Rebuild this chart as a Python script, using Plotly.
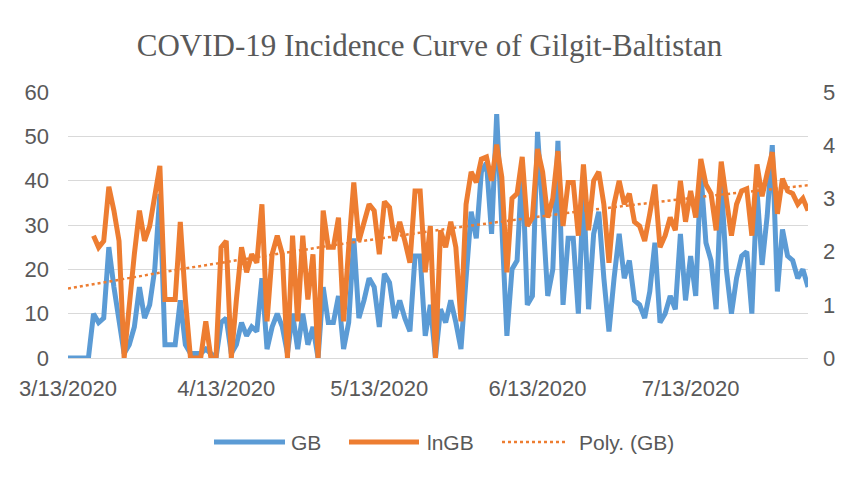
import numpy as np
import pandas as pd
import plotly.graph_objects as go

dates = pd.date_range("2020-03-13", periods=146, freq="D")

gb = [0, 0, 0, 0, 0, 10, 8, 9, 25, 16,
      9, 1, 3, 7, 16, 9, 12, 20, 37, 3,
      3, 3, 13, 3, 1, 1, 1, 2, 1, 0,
      8, 9, 1, 3, 8, 5, 7, 6, 18, 2,
      7, 10, 7, 1, 10, 2, 10, 3, 7, 0,
      16, 8, 8, 14, 2, 8, 27, 9, 13, 18,
      16, 7, 19, 17, 9, 13, 9, 6, 23, 23,
      5, 12, 0, 11, 8, 13, 8, 2, 18, 33,
      27, 42, 44, 28, 55, 30, 5, 20, 22, 44,
      12, 14, 51, 33, 14, 20, 49, 12, 27, 27,
      10, 38, 11, 28, 33, 18, 6, 18, 28, 18,
      22, 13, 12, 9, 15, 26, 8, 10, 14, 11,
      28, 13, 23, 14, 42, 26, 22, 11, 40, 20,
      10, 18, 23, 24, 10, 38, 21, 32, 48, 15,
      29, 23, 22, 18, 20, 16]

ln_gb = [None, None, None, None, None, 2.30, 2.08, 2.20, 3.22, 2.77,
         2.20, 0.00, 1.10, 1.95, 2.77, 2.20, 2.48, 3.00, 3.61, 1.10,
         1.10, 1.10, 2.56, 1.10, 0.00, 0.00, 0.00, 0.69, 0.00, 0.00,
         2.08, 2.20, 0.00, 1.10, 2.08, 1.61, 1.95, 1.79, 2.89, 0.69,
         1.95, 2.30, 1.95, 0.00, 2.30, 0.69, 2.30, 1.10, 1.95, 0.00,
         2.77, 2.08, 2.08, 2.64, 0.69, 2.08, 3.30, 2.20, 2.56, 2.89,
         2.77, 1.95, 2.94, 2.83, 2.20, 2.56, 2.20, 1.79, 3.14, 3.14,
         1.61, 2.48, 0.00, 2.40, 2.08, 2.56, 2.08, 0.69, 2.89, 3.50,
         3.30, 3.74, 3.78, 3.33, 4.01, 3.40, 1.61, 3.00, 3.09, 3.78,
         2.48, 2.64, 3.93, 3.50, 2.64, 3.00, 3.89, 2.48, 3.30, 3.30,
         2.30, 3.64, 2.40, 3.33, 3.50, 2.89, 1.79, 2.89, 3.33, 2.89,
         3.09, 2.56, 2.48, 2.20, 2.71, 3.26, 2.08, 2.30, 2.64, 2.40,
         3.33, 2.56, 3.14, 2.64, 3.74, 3.26, 3.09, 2.40, 3.69, 3.00,
         2.30, 2.89, 3.14, 3.18, 2.30, 3.64, 3.04, 3.47, 3.87, 2.71,
         3.37, 3.14, 3.09, 2.89, 3.00, 2.77]

tick_dates = ["2020-03-13", "2020-04-13", "2020-05-13", "2020-06-13", "2020-07-13"]
tick_labels = ["3/13/2020", "4/13/2020", "5/13/2020", "6/13/2020", "7/13/2020"]
legend_names = ["GB", "lnGB", "Poly. (GB)"]

# order-2 polynomial trendline (Excel "Poly."), fitted on the plotted ln series
xi = np.arange(1, len(ln_gb) + 1, dtype=float)
ln_arr = np.array([np.nan if v is None else v for v in ln_gb], dtype=float)
ok = ~np.isnan(ln_arr)
coef = np.polyfit(xi[ok], ln_arr[ok], 2)
poly = np.polyval(coef, xi)

BLUE = "#5B9BD5"
ORANGE = "#ED7D31"
GREY = "#595959"
FONT = "Liberation Sans"

fig = go.Figure()
fig.add_trace(go.Scatter(x=dates, y=gb, name=legend_names[0], mode="lines",
                         line=dict(color=BLUE, width=5)))
fig.add_trace(go.Scatter(x=dates, y=ln_gb, name=legend_names[1], mode="lines",
                         yaxis="y2", line=dict(color=ORANGE, width=5)))
fig.add_trace(go.Scatter(x=dates, y=poly, name=legend_names[2], mode="lines",
                         yaxis="y2", line=dict(color=ORANGE, width=2.5, dash="dot")))

# page body has an 8px margin, so the figure is sized to fit the window
W, H = 843, 469
L, T, PW, PH = 60, 84, 740, 266
fig.update_layout(
    width=W, height=H,
    margin=dict(l=L, r=W - L - PW, t=T, b=H - T - PH, autoexpand=False),
    paper_bgcolor="white", plot_bgcolor="white",
    showlegend=False,
    title=dict(text="COVID-19 Incidence Curve of Gilgit-Baltistan",
               font=dict(family="Liberation Serif", size=31, color=GREY),
               x=0.5, xanchor="center", y=1 - 37 / H, yanchor="middle"),
    font=dict(family=FONT, color=GREY, size=22),
    xaxis=dict(range=[dates[0], dates[-1]], tickvals=tick_dates, ticktext=tick_labels,
               showgrid=False, showline=True, linecolor="#D9D9D9", linewidth=1,
               ticks="", ticklabelstandoff=11, tickfont=dict(size=22, color=GREY)),
    yaxis=dict(range=[0, 60], dtick=10, showgrid=True, gridcolor="#D9D9D9",
               gridwidth=1, zeroline=False, ticks="", ticklabelstandoff=18,
               tickfont=dict(size=22, color=GREY)),
    yaxis2=dict(range=[0, 5], dtick=1, overlaying="y", side="right",
                showgrid=False, zeroline=False, ticks="", ticklabelstandoff=14,
                tickfont=dict(size=22, color=GREY)),
)

# legend drawn as shapes + text to match the long line samples
def px2x(px):
    return (px - 68) / PW

def py2y(py):
    return (358 - py) / PH

ly = py2y(442)
samples = [(214, 285, BLUE, "solid", 5, 289),
           (349, 419, ORANGE, "solid", 5, 425),
           (502, 567, ORANGE, "dot", 2.5, 577)]
for (x0, x1, col, dash, w, tx), name in zip(samples, legend_names):
    fig.add_shape(type="line", xref="paper", yref="paper",
                  x0=px2x(x0), x1=px2x(x1), y0=ly, y1=ly,
                  line=dict(color=col, width=w, dash=dash))
    fig.add_annotation(xref="paper", yref="paper", x=px2x(tx), y=ly,
                       xanchor="left", yanchor="middle", showarrow=False,
                       text=name, font=dict(family=FONT, size=21, color=GREY))

fig.write_html("out.html")
